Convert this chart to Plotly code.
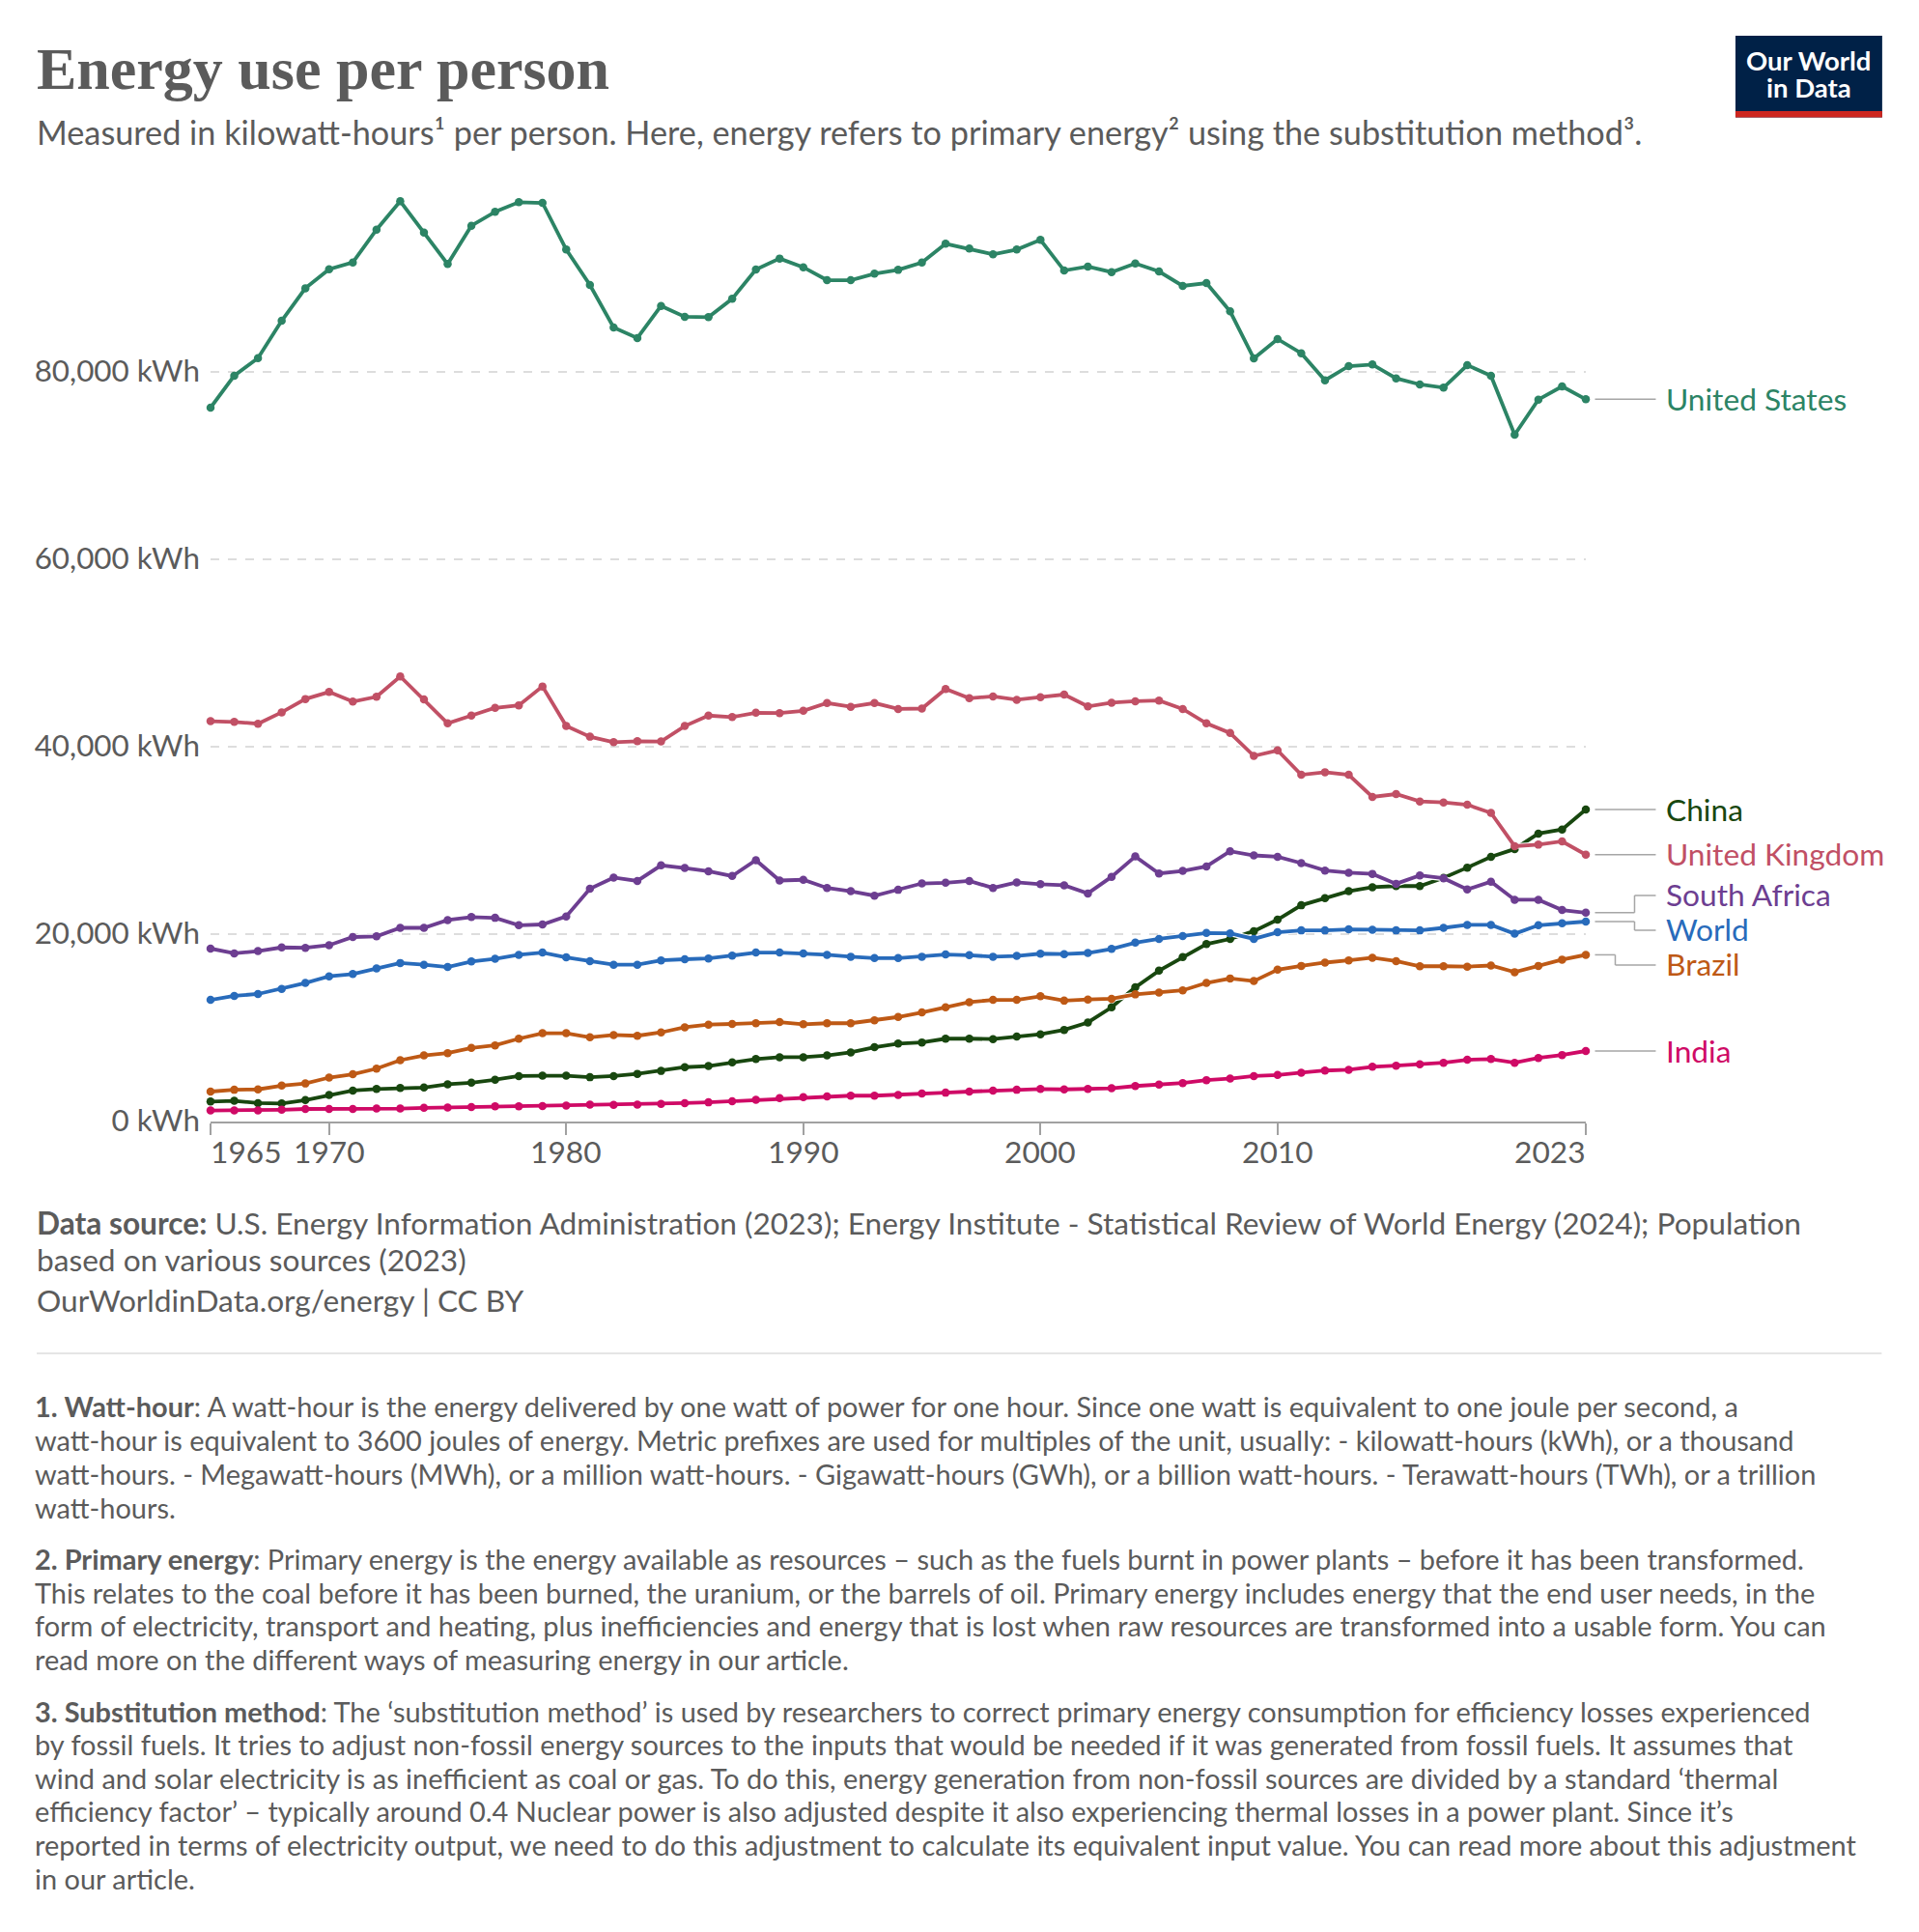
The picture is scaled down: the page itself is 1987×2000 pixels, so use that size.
import plotly.graph_objects as go

years = list(range(1965, 2024))

united_states = [76186,79590,81470,85460,88930,90960,91680,95190,98210,94880,91510,95600,97080,98110,98040,93060,89280,84740,83610,87040,85880,85840,87800,90930,92100,91170,89790,89790,90480,90890,91680,93680,93160,92550,93060,94090,90820,91240,90650,91580,90720,89180,89480,86460,81440,83510,81990,79100,80620,80790,79310,78660,78320,80720,79590,73300,77040,78450,77080]
united_kingdom = [42725,42650,42450,43670,45090,45840,44820,45330,47500,45050,42490,43320,44150,44420,46430,42210,41070,40480,40590,40560,42210,43320,43160,43630,43590,43830,44660,44260,44660,44030,44070,46160,45170,45370,45010,45290,45560,44300,44700,44850,44930,44030,42490,41460,39020,39610,37000,37280,37000,34640,34950,34160,34050,33810,32940,29390,29550,29900,28480]
south_africa = [18460,17950,18190,18580,18540,18820,19690,19760,20670,20670,21500,21820,21740,20950,21030,21890,24850,26040,25680,27340,27060,26710,26200,27890,25720,25800,24930,24580,24100,24730,25410,25480,25680,24930,25520,25330,25210,24340,26120,28290,26470,26750,27220,28840,28400,28250,27580,26790,26550,26430,25370,26270,25960,24770,25600,23670,23670,22570,22290]
world = [12980,13410,13610,14160,14790,15500,15740,16330,16920,16730,16490,17080,17360,17790,18030,17520,17120,16730,16730,17200,17320,17400,17710,18030,18030,17950,17790,17590,17440,17440,17590,17830,17750,17590,17670,17910,17870,17990,18420,19090,19490,19800,20120,20080,19490,20200,20400,20400,20510,20470,20400,20400,20670,20990,20990,20040,20950,21150,21340]
brazil = [3195,3390,3430,3830,4060,4690,5050,5640,6550,7060,7300,7850,8130,8840,9430,9430,8990,9230,9150,9510,10060,10340,10410,10490,10610,10380,10490,10490,10810,11160,11640,12190,12740,12980,12980,13370,12900,13020,13100,13570,13770,14000,14790,15270,14990,16210,16610,16960,17200,17480,17120,16570,16570,16530,16650,15940,16610,17280,17790]
china = [2130,2210,1970,1930,2290,2840,3310,3470,3590,3630,3980,4140,4460,4850,4890,4890,4730,4850,5090,5400,5800,5920,6310,6670,6860,6860,7060,7380,7930,8320,8440,8840,8840,8800,9070,9310,9780,10570,12190,14320,16100,17560,18940,19490,20320,21540,23080,23830,24580,25010,25130,25130,26000,27100,28250,29080,30730,31170,33300]
india = [1180,1180,1180,1260,1340,1340,1340,1380,1380,1460,1500,1540,1620,1620,1660,1700,1810,1780,1810,1890,1970,2050,2170,2330,2490,2600,2680,2760,2760,2840,3000,3080,3195,3310,3390,3470,3430,3470,3550,3790,3950,4100,4420,4580,4850,4970,5210,5440,5520,5840,5960,6110,6270,6590,6670,6270,6790,7100,7530]

series_names = ["China", "India", "Brazil", "World", "South Africa", "United Kingdom", "United States"]
series_values = [china, india, brazil, world, south_africa, united_kingdom, united_states]
series_colors = ["#18470f", "#cf0a66", "#be5915", "#286bbb", "#6d3e91", "#c15065", "#2c8465"]

y_ticks = [0, 20000, 40000, 60000, 80000]
y_tick_labels = ["0 kWh", "20,000 kWh", "40,000 kWh", "60,000 kWh", "80,000 kWh"]
x_ticks = [1965, 1970, 1980, 1990, 2000, 2010, 2023]

title = "Energy use per person"
subtitle = "Measured in kilowatt-hours¹ per person. Here, energy refers to primary energy² using the substitution method³."
source_lines = [
    "<b>Data source:</b> U.S. Energy Information Administration (2023); Energy Institute - Statistical Review of World Energy (2024); Population",
    "based on various sources (2023)",
    "OurWorldinData.org/energy | CC BY",
]
note_lines = [
    "<b>1. Watt-hour</b>: A watt-hour is the energy delivered by one watt of power for one hour. Since one watt is equivalent to one joule per second, a",
    "watt-hour is equivalent to 3600 joules of energy. Metric prefixes are used for multiples of the unit, usually: - kilowatt-hours (kWh), or a thousand",
    "watt-hours. - Megawatt-hours (MWh), or a million watt-hours. - Gigawatt-hours (GWh), or a billion watt-hours. - Terawatt-hours (TWh), or a trillion",
    "watt-hours.",
    "<b>2. Primary energy</b>: Primary energy is the energy available as resources – such as the fuels burnt in power plants – before it has been transformed.",
    "This relates to the coal before it has been burned, the uranium, or the barrels of oil. Primary energy includes energy that the end user needs, in the",
    "form of electricity, transport and heating, plus inefficiencies and energy that is lost when raw resources are transformed into a usable form. You can",
    "read more on the different ways of measuring energy in our article.",
    "<b>3. Substitution method</b>: The ‘substitution method’ is used by researchers to correct primary energy consumption for efficiency losses experienced",
    "by fossil fuels. It tries to adjust non-fossil energy sources to the inputs that would be needed if it was generated from fossil fuels. It assumes that",
    "wind and solar electricity is as inefficient as coal or gas. To do this, energy generation from non-fossil sources are divided by a standard ‘thermal",
    "efficiency factor’ – typically around 0.4 Nuclear power is also adjusted despite it also experiencing thermal losses in a power plant. Since it’s",
    "reported in terms of electricity output, we need to do this adjustment to calculate its equivalent input value. You can read more about this adjustment",
    "in our article.",
]
note_y = [1455.5, 1490.5, 1525, 1560.5, 1613, 1648, 1682.5, 1717, 1771, 1805.5, 1840, 1874.5, 1909, 1944]
source_y = [1265.5, 1304, 1346]

W, H = 1987, 2000
L, R, T, B = 218, 1642.5, 191, 1161
FONT = "Lato"
GREY = "#5b5b5b"

def px(x):
    return (x - L) / (R - L)

def py(y):
    return (B - y) / (B - T)

fig = go.Figure()
for name, vals, col in zip(series_names, series_values, series_colors):
    fig.add_trace(go.Scatter(x=years, y=vals, mode="lines", line=dict(color="white", width=6),
                             hoverinfo="skip", showlegend=False, cliponaxis=False))
    fig.add_trace(go.Scatter(x=years, y=vals, mode="lines+markers", name=name,
                             line=dict(color=col, width=3.8), marker=dict(color=col, size=8.5),
                             showlegend=False, cliponaxis=False))

ann = []

def text(x, y, s, size, color=GREY, anchor="left", family=FONT):
    ann.append(dict(xref="paper", yref="paper", x=px(x), y=py(y), text=s, showarrow=False,
                    xanchor=anchor, yanchor="middle", align=anchor,
                    font=dict(family=family, size=size, color=color)))

text(36, 71, "<b>%s</b>" % title, 62, color="#5b5b5b", family="Liberation Serif")
text(36, 137, subtitle, 34.25)

# x-axis tick labels, 1965 and 2023 aligned to the axis ends
for v in x_ticks:
    a = "left" if v == x_ticks[0] else ("right" if v == x_ticks[-1] else "center")
    shift = -2 if v == x_ticks[0] else (2 if v == x_ticks[-1] else 0)
    ann.append(dict(xref="x", yref="paper", x=v, y=py(1192), text=str(v), showarrow=False,
                    xanchor=a, yanchor="middle", xshift=shift, font=dict(family=FONT, size=31.7, color=GREY)))

# direct labels
labels = {
    "United States": (413, None),
    "China": (838, None),
    "United Kingdom": (884, None),
    "South Africa": (926, (1693, 927)),
    "World": (962, (1693, 963)),
    "Brazil": (998, (1673, 999)),
    "India": (1088, None),
}
shapes = []
for name, vals, col in zip(series_names, series_values, series_colors):
    ly, elbow = labels[name]
    text(1723.5, ly, name, 31.7, color=col)
    y0 = B - vals[-1] * (B - T) / 100000
    x1, x2 = 1652, 1715
    if elbow is None:
        pts = [(x1, y0), (x2, y0)]
    else:
        ex, ey = elbow
        pts = [(x1, y0), (ex, y0), (ex, ey), (x2, ey)]
    for (a, b), (c, d) in zip(pts[:-1], pts[1:]):
        shapes.append(dict(type="line", xref="paper", yref="paper", x0=px(a), y0=py(b), x1=px(c), y1=py(d),
                           line=dict(color="#a6a6a6", width=1.5)))

for s, y in zip(source_lines, source_y):
    text(36, y, s, 31.65)
for s, y in zip(note_lines, note_y):
    text(34, y, s, 28.95)

# divider
shapes.append(dict(type="line", xref="paper", yref="paper", x0=px(38), x1=px(1949), y0=py(1401), y1=py(1401),
                   line=dict(color="#dddddd", width=1.5)))
# logo
shapes.append(dict(type="rect", xref="paper", yref="paper", x0=px(1797.5), x1=px(1949.5), y0=py(37), y1=py(121.5),
                   fillcolor="#002147", line=dict(width=0)))
shapes.append(dict(type="rect", xref="paper", yref="paper", x0=px(1797.5), x1=px(1949.5), y0=py(115), y1=py(121.5),
                   fillcolor="#ce261e", line=dict(width=0)))
text(1873.5, 62.5, "<b>Our World</b>", 27.5, color="white", anchor="center")
text(1873.5, 90.5, "<b>in Data</b>", 27.5, color="white", anchor="center")

fig.update_layout(
    width=W, height=H, autosize=False,
    margin=dict(l=L, r=W - R, t=T, b=H - B, pad=0),
    plot_bgcolor="white", paper_bgcolor="white",
    font=dict(family=FONT, color=GREY),
    showlegend=False, annotations=ann, shapes=shapes,
    xaxis=dict(range=[1965, 2023], tickmode="array", tickvals=x_ticks, showticklabels=False,
               ticks="outside", ticklen=12, tickwidth=2, tickcolor="#a1a1a1",
               showgrid=False, zeroline=False, showline=True, linecolor="#a1a1a1", linewidth=2),
    yaxis=dict(range=[0, 100000], tickmode="array", tickvals=y_ticks, ticktext=y_tick_labels,
               tickfont=dict(family=FONT, size=31.4, color=GREY), ticks="", ticklabelstandoff=10,
               ticklabelshift=-1,
               showgrid=True, gridcolor="#dddddd", griddash="dash", gridwidth=1.5,
               zeroline=False, showline=False),
)

fig.write_html("out.html", config=dict(displayModeBar=False),
               post_script="document.body.style.margin='0';document.documentElement.style.overflow='hidden';")
